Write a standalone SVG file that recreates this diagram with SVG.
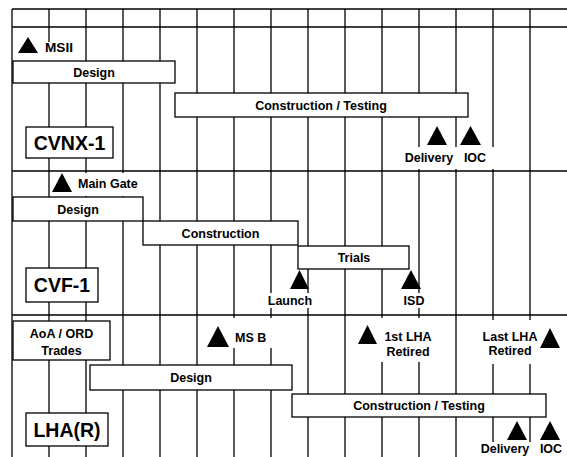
<svg xmlns="http://www.w3.org/2000/svg" width="567" height="457" viewBox="0 0 567 457">
<style>
.g{stroke:#000;stroke-width:1.3;fill:none}
.bar{fill:#fff;stroke:#000;stroke-width:1.3}
.bg{fill:#fff;stroke:none}
.tri{fill:#000}
.t{font-family:"Liberation Sans",Arial,sans-serif;font-weight:bold;font-size:12.5px;fill:#000;text-anchor:middle}
.s{font-family:"Liberation Sans",Arial,sans-serif;font-weight:bold;font-size:12.5px;fill:#000;text-anchor:start}
.big{font-family:"Liberation Sans",Arial,sans-serif;font-weight:bold;font-size:19.5px;fill:#000;text-anchor:middle}
</style>
<rect width="567" height="457" fill="#fff"/>
<g id="grid" class="g">
<path d="M12,9H567M12,27H567M12,171H567M12,315H567"/>
<path d="M12,9V457M49,9V457M86,9V457M123,9V457M160,9V457M197,9V457M234,9V457M271,9V457M308,9V457M345,9V457M382,9V457M419,9V457M456,9V457M493,9V457M530,9V457"/>
</g>
<g id="cvnx">
<g id="cvnx-msii"><rect class="bg" x="40" y="42" width="38" height="19"/><polygon class="tri" points="18,53 28,37 38,53"/><text class="s" x="45" y="52" font-size="11" textLength="28" lengthAdjust="spacingAndGlyphs">MSII</text></g>
<g id="cvnx-design"><rect class="bar" x="13" y="61" width="162" height="22"/><text class="t" x="94" y="77">Design</text></g>
<g id="cvnx-construction"><rect class="bar" x="175" y="93" width="293" height="24"/><text class="t" x="321" y="110">Construction / Testing</text></g>
<g id="cvnx-title"><rect class="bar" x="26" y="127" width="87" height="31"/><text class="big" x="69.5" y="150">CVNX-1</text></g>
<g id="cvnx-delivery"><rect class="bg" x="402" y="147" width="92" height="22"/><polygon class="tri" points="427,145 437,126 447,145"/><text class="t" x="429" y="162">Delivery</text></g>
<g id="cvnx-ioc"><polygon class="tri" points="460,145 470.5,126 481,145"/><text class="t" x="475" y="162">IOC</text></g>
</g>
<g id="cvf">
<g id="cvf-maingate"><rect class="bg" x="75" y="173" width="70" height="23"/><polygon class="tri" points="52,192 62,173 72,192"/><text class="s" x="78" y="188">Main Gate</text></g>
<g id="cvf-design"><rect class="bar" x="13" y="197" width="130" height="24"/><text class="t" x="78" y="214">Design</text></g>
<g id="cvf-construction"><rect class="bar" x="143" y="221" width="155" height="24"/><text class="t" x="220.5" y="238">Construction</text></g>
<g id="cvf-trials"><rect class="bar" x="298" y="246" width="111" height="23"/><text class="t" x="354" y="262">Trials</text></g>
<g id="cvf-launch"><rect class="bg" x="266" y="293" width="48" height="15"/><polygon class="tri" points="290,289 299.5,270 309,289"/><text class="t" x="290" y="305">Launch</text></g>
<g id="cvf-isd"><rect class="bg" x="402" y="293" width="24" height="15"/><polygon class="tri" points="401,289 411,270 421,289"/><text class="t" x="414" y="305">ISD</text></g>
<g id="cvf-title"><rect class="bar" x="26" y="268" width="72" height="34"/><text class="big" x="62" y="292">CVF-1</text></g>
</g>
<g id="lha">
<g id="lha-aoa"><rect class="bar" x="13" y="321" width="97" height="39"/><text class="t" x="61.5" y="338">AoA / ORD</text><text class="t" x="61.5" y="355">Trades</text></g>
<g id="lha-msb"><rect class="bg" x="232" y="318" width="42" height="30"/><polygon class="tri" points="207,347 218,326 229,347"/><text class="s" x="235" y="342">MS B</text></g>
<g id="lha-design"><rect class="bar" x="90" y="365" width="202" height="25"/><text class="t" x="191" y="382">Design</text></g>
<g id="lha-construction"><rect class="bar" x="292" y="394" width="254" height="23"/><text class="t" x="419" y="410">Construction / Testing</text></g>
<g id="lha-1st"><rect class="bg" x="380" y="318" width="56" height="44"/><polygon class="tri" points="358,344 367.5,325 377,344"/><text class="t" x="408" y="341">1st LHA</text><text class="t" x="408" y="356">Retired</text></g>
<g id="lha-last"><rect class="bg" x="480" y="320" width="60" height="44"/><polygon class="tri" points="540,348 550,328 560,348"/><text class="t" x="510" y="341">Last LHA</text><text class="t" x="510" y="355">Retired</text></g>
<g id="lha-delivery"><rect class="bg" x="481" y="442" width="84" height="15"/><polygon class="tri" points="507,440 517,421 527,440"/><text class="t" x="505" y="453">Delivery</text></g>
<g id="lha-ioc"><polygon class="tri" points="540,440 550,421 560,440"/><text class="t" x="551" y="453">IOC</text></g>
<g id="lha-title"><rect class="bar" x="26" y="413" width="82" height="33"/><text class="big" x="67" y="437">LHA(R)</text></g>
</g>
</svg>
